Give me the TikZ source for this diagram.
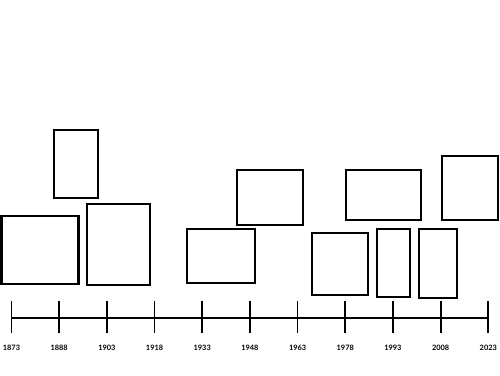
\documentclass[tikz,border=0pt]{standalone}
\usepackage{fontspec}
\setmainfont{Lato}
\begin{document}
\begin{tikzpicture}[x=1pt,y=-1pt,
  card/.style={draw=black,line width=2.3pt,fill=white,inner sep=0pt,outer sep=0pt},
  tickmark/.style={draw=black,line width=1.8pt},
  yearlabel/.style={font=\bfseries\fontsize{7.4}{8}\selectfont,inner sep=0pt,anchor=center}]
\useasboundingbox (0,0) rectangle (500,375);
% boxes: \cardbox{name}{x1}{y1}{x2}{y2}
\newcommand{\cardbox}[5]{%
  \node[card,minimum width={#4-#2},minimum height={#5-#3}] (#1) at ({(#2+#4)/2},{(#3+#5)/2}) {};}
\cardbox{boxA}{54.3}{130.3}{98}{198.3}
\cardbox{boxB}{1.5}{216}{78.6}{284}
\cardbox{boxC}{87}{204}{149.7}{284.7}
\cardbox{boxD}{187}{229.3}{255.3}{283.3}
\cardbox{boxE}{236.7}{169.7}{303.3}{225}
\cardbox{boxF}{346.3}{170}{421.3}{220.3}
\cardbox{boxG}{442.3}{156}{497.7}{220.3}
\cardbox{boxH}{312.3}{232.7}{368.3}{294.7}
\cardbox{boxI}{377}{229.3}{410}{297}
\cardbox{boxJ}{418.7}{229.3}{457.3}{297.7}
% axis
\coordinate (start) at (11.5,317.7);
\coordinate (end) at (488.3,317.7);
\draw[tickmark] (start) -- (end);
\foreach \yr [count=\i from 0] in {1873,1888,1903,1918,1933,1948,1963,1978,1993,2008,2023} {
  \coordinate (t\i) at ({11.5+47.68*\i},317.7);
  \draw[tickmark] ([yshift=16.5pt]t\i) -- ([yshift=-15.5pt]t\i);
  \node[yearlabel] (l\i) at ([yshift=-30.6pt]t\i) {\yr};
}
\end{tikzpicture}
\end{document}
